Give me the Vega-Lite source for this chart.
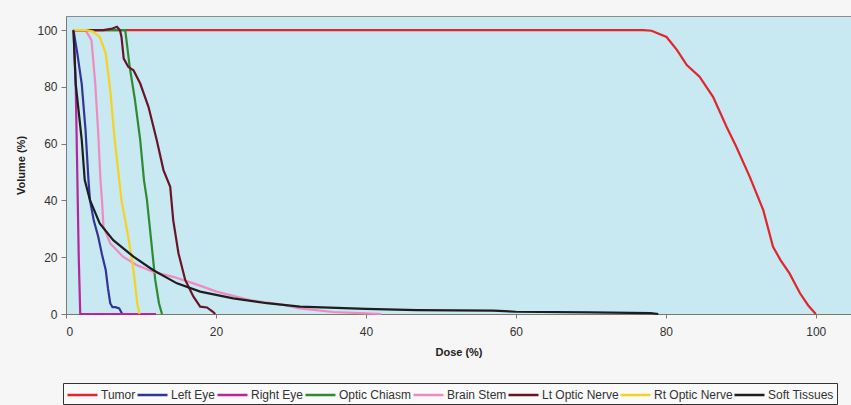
{
  "$schema": "https://vega.github.io/schema/vega-lite/v6.json",
  "width": 785,
  "height": 298,
  "autosize": {"type": "none"},
  "padding": {"left": 66, "top": 16, "right": 0, "bottom": 91},
  "background": "#f6f6f6",
  "config": {
    "view": {"fill": "#c8e8f2", "stroke": "#8c8c8c", "strokeWidth": 1},
    "font": "Liberation Sans"
  },
  "data": {
    "values": [
      {"s": "Tumor", "x": 1, "y": 100}, {"s": "Tumor", "x": 77, "y": 100}, {"s": "Tumor", "x": 78.1, "y": 99.8}, {"s": "Tumor", "x": 80.1, "y": 97.6}, {"s": "Tumor", "x": 81.5, "y": 93}, {"s": "Tumor", "x": 82.8, "y": 87.7}, {"s": "Tumor", "x": 84.5, "y": 83.6}, {"s": "Tumor", "x": 86.3, "y": 76.5}, {"s": "Tumor", "x": 88.1, "y": 66}, {"s": "Tumor", "x": 89.4, "y": 58.9}, {"s": "Tumor", "x": 91.2, "y": 48.3}, {"s": "Tumor", "x": 93, "y": 36.6}, {"s": "Tumor", "x": 94.3, "y": 23.7}, {"s": "Tumor", "x": 95.3, "y": 19}, {"s": "Tumor", "x": 96.5, "y": 14.3}, {"s": "Tumor", "x": 97.9, "y": 7.3}, {"s": "Tumor", "x": 99, "y": 3}, {"s": "Tumor", "x": 100, "y": 0},

      {"s": "Left Eye", "x": 1, "y": 100}, {"s": "Left Eye", "x": 1.5, "y": 92}, {"s": "Left Eye", "x": 2.1, "y": 81}, {"s": "Left Eye", "x": 2.6, "y": 65}, {"s": "Left Eye", "x": 3.0, "y": 47}, {"s": "Left Eye", "x": 3.2, "y": 40}, {"s": "Left Eye", "x": 3.7, "y": 33}, {"s": "Left Eye", "x": 4.3, "y": 27.2}, {"s": "Left Eye", "x": 4.8, "y": 21}, {"s": "Left Eye", "x": 5.3, "y": 15.5}, {"s": "Left Eye", "x": 5.6, "y": 9}, {"s": "Left Eye", "x": 5.9, "y": 3.8}, {"s": "Left Eye", "x": 6.2, "y": 2.4}, {"s": "Left Eye", "x": 6.6, "y": 2.4}, {"s": "Left Eye", "x": 7.1, "y": 2.0}, {"s": "Left Eye", "x": 7.5, "y": 0}, {"s": "Left Eye", "x": 8, "y": 0},

      {"s": "Right Eye", "x": 1, "y": 100}, {"s": "Right Eye", "x": 1.3, "y": 80}, {"s": "Right Eye", "x": 1.5, "y": 50}, {"s": "Right Eye", "x": 1.7, "y": 20}, {"s": "Right Eye", "x": 1.9, "y": 0}, {"s": "Right Eye", "x": 12, "y": 0},

      {"s": "Optic Chiasm", "x": 1, "y": 100}, {"s": "Optic Chiasm", "x": 7.9, "y": 100}, {"s": "Optic Chiasm", "x": 8.5, "y": 87}, {"s": "Optic Chiasm", "x": 9.2, "y": 75.4}, {"s": "Optic Chiasm", "x": 9.9, "y": 61.3}, {"s": "Optic Chiasm", "x": 10.4, "y": 47.2}, {"s": "Optic Chiasm", "x": 10.8, "y": 40.1}, {"s": "Optic Chiasm", "x": 11.4, "y": 24.9}, {"s": "Optic Chiasm", "x": 11.9, "y": 12}, {"s": "Optic Chiasm", "x": 12.4, "y": 3.8}, {"s": "Optic Chiasm", "x": 12.8, "y": 0},

      {"s": "Brain Stem", "x": 1, "y": 100}, {"s": "Brain Stem", "x": 2.6, "y": 100}, {"s": "Brain Stem", "x": 3.4, "y": 96.5}, {"s": "Brain Stem", "x": 3.9, "y": 81.2}, {"s": "Brain Stem", "x": 4.3, "y": 63.6}, {"s": "Brain Stem", "x": 4.6, "y": 47.2}, {"s": "Brain Stem", "x": 4.8, "y": 40}, {"s": "Brain Stem", "x": 5.0, "y": 30.7}, {"s": "Brain Stem", "x": 5.9, "y": 24.9}, {"s": "Brain Stem", "x": 7.6, "y": 20.2}, {"s": "Brain Stem", "x": 9.4, "y": 17.3}, {"s": "Brain Stem", "x": 11.6, "y": 14.9}, {"s": "Brain Stem", "x": 14.3, "y": 13.1}, {"s": "Brain Stem", "x": 17, "y": 10.8}, {"s": "Brain Stem", "x": 20.1, "y": 7.9}, {"s": "Brain Stem", "x": 24.5, "y": 4.9}, {"s": "Brain Stem", "x": 29, "y": 3.2}, {"s": "Brain Stem", "x": 31.2, "y": 2.0}, {"s": "Brain Stem", "x": 35.6, "y": 0.7}, {"s": "Brain Stem", "x": 40, "y": 0.2}, {"s": "Brain Stem", "x": 42, "y": 0},

      {"s": "Lt Optic Nerve", "x": 1, "y": 100}, {"s": "Lt Optic Nerve", "x": 5, "y": 100}, {"s": "Lt Optic Nerve", "x": 6.2, "y": 100.6}, {"s": "Lt Optic Nerve", "x": 6.8, "y": 101.2}, {"s": "Lt Optic Nerve", "x": 7.2, "y": 100}, {"s": "Lt Optic Nerve", "x": 7.4, "y": 97.6}, {"s": "Lt Optic Nerve", "x": 7.7, "y": 90}, {"s": "Lt Optic Nerve", "x": 8.3, "y": 87.1}, {"s": "Lt Optic Nerve", "x": 9.0, "y": 85.9}, {"s": "Lt Optic Nerve", "x": 9.9, "y": 81.2}, {"s": "Lt Optic Nerve", "x": 11, "y": 73}, {"s": "Lt Optic Nerve", "x": 12.1, "y": 61.3}, {"s": "Lt Optic Nerve", "x": 13, "y": 50.7}, {"s": "Lt Optic Nerve", "x": 13.9, "y": 44.8}, {"s": "Lt Optic Nerve", "x": 14.3, "y": 33.1}, {"s": "Lt Optic Nerve", "x": 15, "y": 21.4}, {"s": "Lt Optic Nerve", "x": 15.9, "y": 12}, {"s": "Lt Optic Nerve", "x": 17, "y": 6.1}, {"s": "Lt Optic Nerve", "x": 17.9, "y": 2.6}, {"s": "Lt Optic Nerve", "x": 18.8, "y": 2.3}, {"s": "Lt Optic Nerve", "x": 19.6, "y": 0.8}, {"s": "Lt Optic Nerve", "x": 19.9, "y": 0},

      {"s": "Rt Optic Nerve", "x": 1, "y": 100}, {"s": "Rt Optic Nerve", "x": 2.7, "y": 100}, {"s": "Rt Optic Nerve", "x": 3.6, "y": 99.5}, {"s": "Rt Optic Nerve", "x": 4.5, "y": 97.6}, {"s": "Rt Optic Nerve", "x": 5.3, "y": 91.8}, {"s": "Rt Optic Nerve", "x": 5.9, "y": 78.9}, {"s": "Rt Optic Nerve", "x": 6.5, "y": 61.3}, {"s": "Rt Optic Nerve", "x": 7.1, "y": 47.2}, {"s": "Rt Optic Nerve", "x": 7.4, "y": 40.1}, {"s": "Rt Optic Nerve", "x": 8.3, "y": 27.2}, {"s": "Rt Optic Nerve", "x": 9.0, "y": 15.5}, {"s": "Rt Optic Nerve", "x": 9.5, "y": 3.8}, {"s": "Rt Optic Nerve", "x": 9.8, "y": 0},

      {"s": "Soft Tissues", "x": 1, "y": 100}, {"s": "Soft Tissues", "x": 1.3, "y": 81}, {"s": "Soft Tissues", "x": 2.1, "y": 61.3}, {"s": "Soft Tissues", "x": 2.5, "y": 47.2}, {"s": "Soft Tissues", "x": 3.2, "y": 40.1}, {"s": "Soft Tissues", "x": 4.5, "y": 31.9}, {"s": "Soft Tissues", "x": 6.3, "y": 26}, {"s": "Soft Tissues", "x": 9, "y": 20.2}, {"s": "Soft Tissues", "x": 11.6, "y": 15.5}, {"s": "Soft Tissues", "x": 14.8, "y": 10.8}, {"s": "Soft Tissues", "x": 17.9, "y": 7.9}, {"s": "Soft Tissues", "x": 22.3, "y": 5.5}, {"s": "Soft Tissues", "x": 26.8, "y": 3.8}, {"s": "Soft Tissues", "x": 31.2, "y": 2.6}, {"s": "Soft Tissues", "x": 40, "y": 1.8}, {"s": "Soft Tissues", "x": 46.8, "y": 1.4}, {"s": "Soft Tissues", "x": 57, "y": 1.2}, {"s": "Soft Tissues", "x": 60, "y": 0.8}, {"s": "Soft Tissues", "x": 70, "y": 0.6}, {"s": "Soft Tissues", "x": 78, "y": 0.3}, {"s": "Soft Tissues", "x": 79, "y": 0}
    ]
  },
  "mark": {"type": "line", "strokeWidth": 2.2},
  "encoding": {
    "x": {
      "field": "x", "type": "quantitative",
      "scale": {"domain": [0, 104.7], "nice": false},
      "axis": {
        "title": "Dose (%)", "values": [0, 20, 40, 60, 80, 100], "grid": false,
        "tickSize": 4, "labelPadding": 8, "labelFontSize": 12, "labelColor": "#333333",
        "domainColor": "#7a7a6a", "tickColor": "#7a7a6a",
        "titleFontSize": 11, "titleFontWeight": "bold", "titleColor": "#222222", "titlePadding": 9
      }
    },
    "y": {
      "field": "y", "type": "quantitative",
      "scale": {"domain": [0, 105], "nice": false},
      "axis": {
        "title": "Volume (%)", "values": [0, 20, 40, 60, 80, 100], "grid": false,
        "tickSize": 5, "labelPadding": 4, "labelFontSize": 12, "labelColor": "#333333",
        "domainColor": "#7a7a7a", "tickColor": "#7a7a7a",
        "titleFontSize": 11, "titleFontWeight": "bold", "titleColor": "#222222", "titlePadding": 10
      }
    },
    "color": {
      "field": "s", "type": "nominal",
      "scale": {
        "domain": ["Tumor", "Left Eye", "Right Eye", "Optic Chiasm", "Brain Stem", "Lt Optic Nerve", "Rt Optic Nerve", "Soft Tissues"],
        "range": ["#e0262b", "#33349a", "#b8259a", "#2d8c33", "#f08ac0", "#6a1526", "#f5d320", "#1e1e1e"]
      },
      "legend": {
        "title": null, "orient": "none", "legendX": -3, "legendY": 367,
        "direction": "horizontal", "columns": 8,
        "symbolType": "M-1,0H3", "symbolSize": 225, "symbolStrokeWidth": 2.5,
        "labelFontSize": 12, "labelColor": "#333333", "labelOffset": 17,
        "columnPadding": -6, "padding": 3, "strokeColor": "#333333", "fillColor": "#fafafa"
      }
    }
  }
}
